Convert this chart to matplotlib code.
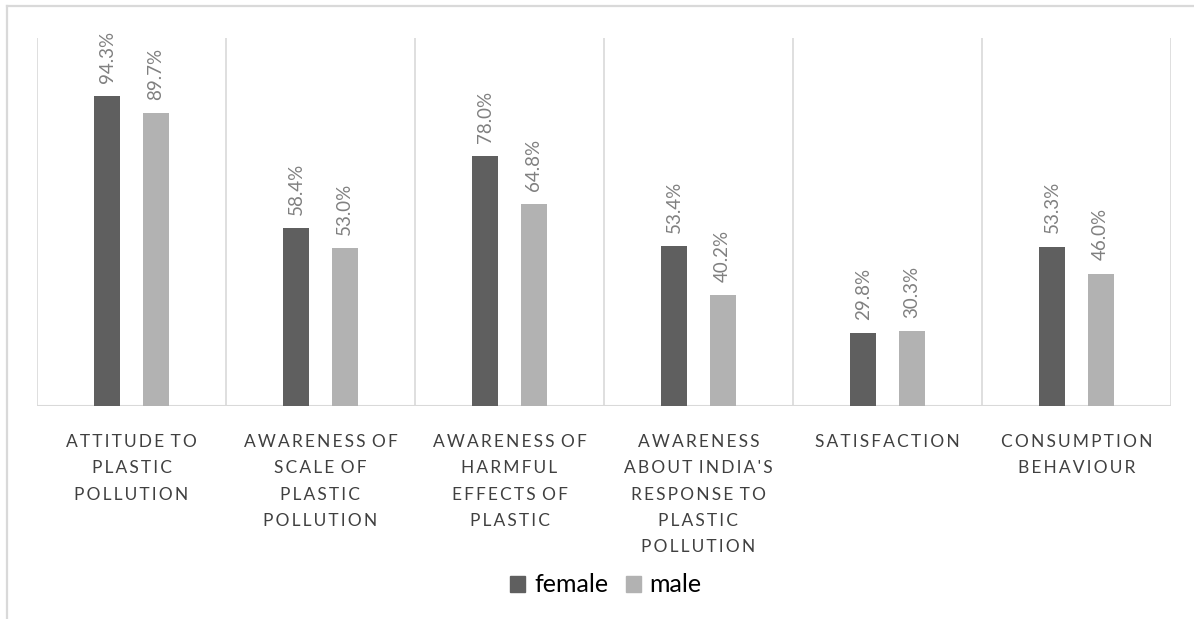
import matplotlib.pyplot as plt
import numpy as np
from matplotlib.lines import Line2D
from matplotlib.patches import Patch

categories = [
    "ATTITUDE TO\nPLASTIC\nPOLLUTION",
    "AWARENESS OF\nSCALE OF\nPLASTIC\nPOLLUTION",
    "AWARENESS OF\nHARMFUL\nEFFECTS OF\nPLASTIC",
    "AWARENESS\nABOUT INDIA'S\nRESPONSE TO\nPLASTIC\nPOLLUTION",
    "SATISFACTION",
    "CONSUMPTION\nBEHAVIOUR",
]
female = [94.3, 58.4, 78.0, 53.4, 29.8, 53.3]
male = [89.7, 53.0, 64.8, 40.2, 30.3, 46.0]

FEMALE_COLOR = "#5f5f5f"
MALE_COLOR = "#b2b2b2"
GRID_COLOR = "#d9d9d9"
FONT = ["Lato", "DejaVu Sans"]


def tracked(label: str) -> str:
    # widen the letter spacing of the category labels
    out = []
    for line in label.split("\n"):
        out.append("\u2009".join(line.replace(" ", "\u2009")))
    return "\n".join(out)


fig = plt.figure(figsize=(11.94, 6.19), dpi=100)
ax = fig.add_axes([37 / 1194, 1 - 406 / 619, (1171 - 37) / 1194, (406 - 38) / 619])

x = np.arange(len(categories))
offset = 0.128
width = 0.137
ax.bar(x - offset, female, width, color=FEMALE_COLOR, zorder=3)
ax.bar(x + offset, male, width, color=MALE_COLOR, zorder=3)

for xs, vals in ((x - offset, female), (x + offset, male)):
    for xi, v in zip(xs, vals):
        ax.annotate(f"{v:.1f}%", (xi, v), xytext=(0, 9.5), textcoords="offset points",
                    rotation=90, ha="center", va="bottom", fontsize=13.5,
                    color="#808080", family=FONT)

ax.set_xlim(-0.5, len(categories) - 0.5)
ax.set_ylim(10, 110)
for b in np.arange(-0.5, len(categories), 1.0):
    ax.axvline(b, color=GRID_COLOR, lw=1.2, zorder=1)
ax.axhline(10, color=GRID_COLOR, lw=1.5, zorder=2)
for s in ax.spines.values():
    s.set_visible(False)
ax.set_yticks([])
ax.set_xticks(x)
ax.set_xticklabels([tracked(c) for c in categories], fontsize=12.5,
                   color="#404040", family=FONT, linespacing=1.8, va="top")
ax.tick_params(axis="x", length=0, pad=20)

handles = [Patch(color=FEMALE_COLOR, label="female"), Patch(color=MALE_COLOR, label="male")]
fig.legend(handles=handles, loc="center", bbox_to_anchor=(606 / 1194, 1 - 585 / 619), ncol=2,
           frameon=False, prop={"family": FONT, "size": 18}, handlelength=0.6,
           handleheight=0.6, handletextpad=0.35, columnspacing=0.7)

# outer chart frame
fig.add_artist(Line2D([7 / 1194, 1], [1 - 6 / 619] * 2, color=GRID_COLOR, lw=1.6))
fig.add_artist(Line2D([7 / 1194] * 2, [0, 1 - 6 / 619], color=GRID_COLOR, lw=1.6))

fig.savefig("out.png", dpi=100)
